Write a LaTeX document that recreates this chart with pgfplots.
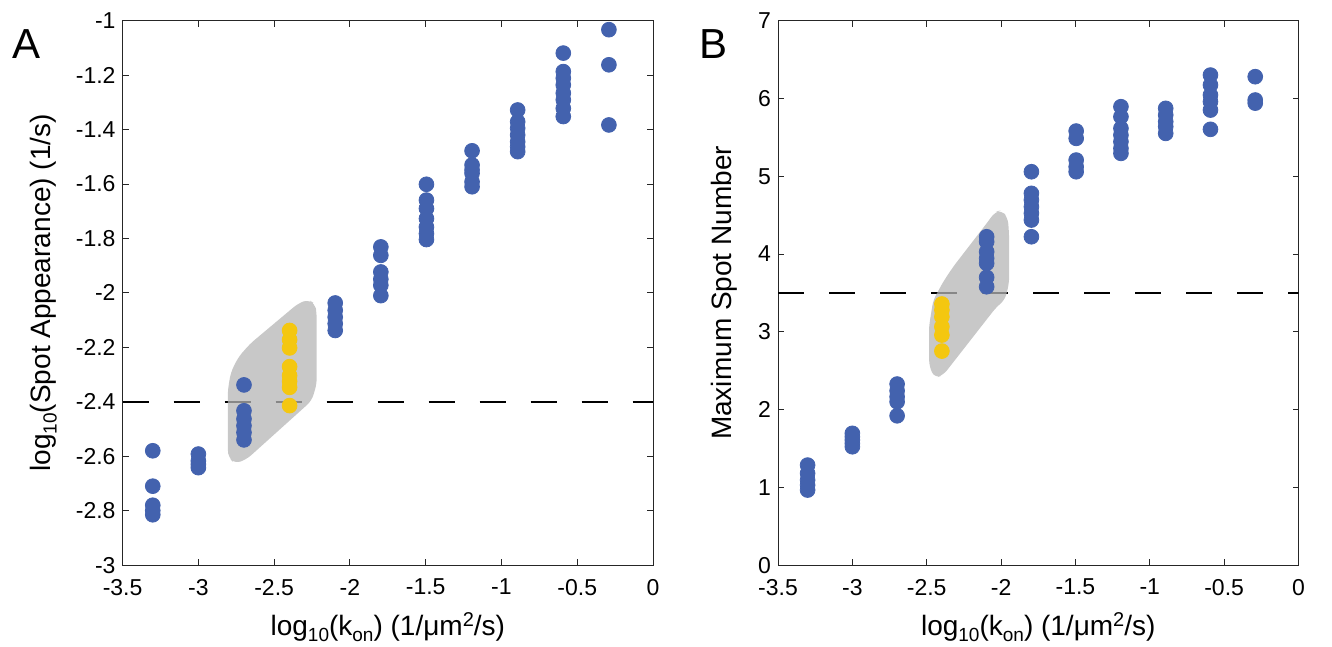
\documentclass[border=0pt]{standalone}
\usepackage{pgfplots}
\pgfplotsset{compat=1.18}
\usepackage{fontspec}
\setmainfont{Liberation Sans}

\definecolor{dotblue}{HTML}{4362AE}
\definecolor{dotyellow}{HTML}{F4C710}
\definecolor{axgray}{HTML}{262626}

\newcommand\lo[1]{\raisebox{-3.3pt}{\fontsize{9.5}{10}\selectfont #1}}
\newcommand\hi[1]{\raisebox{4.5pt}{\fontsize{10}{10}\selectfont #1}}

\pgfplotsset{
  panel/.style={
    scale only axis, height=272.2pt,
    axis line style={axgray, line width=0.5pt},
    tick style={axgray, line width=0.5pt},
    tick align=inside, major tick length=3pt,
    xmin=-3.5, xmax=0,
    xtick={-3.5,-3,-2.5,-2,-1.5,-1,-0.5,0},
    font=\fontsize{11.5}{13.8}\selectfont,
    /pgf/number format/assume math mode=true,
    ticklabel style={text=black},
    xticklabel style={yshift=-3.5pt},
    xlabel={log\lo{10}(k\lo{on}) (1/μm\hi{2}/s)},
    every axis x label/.style={at={(rel axis cs:0.5,0)}, anchor=base,
      yshift=-35pt, font=\fontsize{14}{16}\selectfont},
  },
  ylab/.style={every axis y label/.style={at={(rel axis cs:0,0.5)},
      xshift=#1, rotate=90, anchor=base, font=\fontsize{14}{16}\selectfont}},
  dots/.style={only marks, color=#1, mark=*, mark size=3.7pt,
    mark options={draw=#1, fill=#1}},
  thr/.style={black, line width=1.2pt, dash pattern=on 13pt off 12.5pt},
  blob/.style={draw=none, fill=black!29, fill opacity=0.75, rounded corners=3pt},
}

\begin{document}
\begin{tikzpicture}
\path[use as bounding box] (0,0) rectangle (666pt,-323.5pt);

% panel A
\begin{axis}[panel, at={(61.3pt,-10.35pt)}, anchor=north west, width=265.2pt,
  ymin=-3, ymax=-1,
  ytick={-3,-2.8,-2.6,-2.4,-2.2,-2,-1.8,-1.6,-1.4,-1.2,-1},
  ylabel={log\lo{10}(Spot Appearance) (1/s)}, ylab=-36.3pt]
\addplot[thr] coordinates {(-3.5,-2.4) (0,-2.4)};
\addplot[blob] coordinates {
  (-2.274,-2.025) (-2.230,-2.040) (-2.219,-2.077) (-2.219,-2.334)
  (-2.252,-2.396) (-2.681,-2.611) (-2.758,-2.627) (-2.802,-2.605)
  (-2.806,-2.568) (-2.806,-2.359) (-2.786,-2.292) (-2.736,-2.236)
  (-2.659,-2.187) (-2.340,-2.038)} -- cycle;
\addplot[dots=dotblue] coordinates {
  (-3.301,-2.58) (-3.301,-2.71) (-3.301,-2.78) (-3.301,-2.80) (-3.301,-2.815)
  (-3.0,-2.592) (-3.0,-2.617) (-3.0,-2.63) (-3.0,-2.642)
  (-2.699,-2.338) (-2.699,-2.433) (-2.699,-2.463) (-2.699,-2.488) (-2.699,-2.513) (-2.699,-2.540)
  (-2.097,-2.037) (-2.097,-2.064) (-2.097,-2.089) (-2.097,-2.113) (-2.097,-2.138)
  (-1.796,-1.831) (-1.796,-1.862) (-1.796,-1.923) (-1.796,-1.95) (-1.796,-1.972) (-1.796,-2.01)
  (-1.495,-1.601) (-1.495,-1.659) (-1.495,-1.690) (-1.495,-1.727) (-1.495,-1.758) (-1.495,-1.782) (-1.495,-1.804)
  (-1.194,-1.478) (-1.194,-1.530) (-1.194,-1.548) (-1.194,-1.561) (-1.194,-1.592) (-1.194,-1.610)
  (-0.893,-1.328) (-0.893,-1.371) (-0.893,-1.395) (-0.893,-1.420) (-0.893,-1.445) (-0.893,-1.463) (-0.893,-1.481)
  (-0.592,-1.119) (-0.592,-1.187) (-0.592,-1.211) (-0.592,-1.236) (-0.592,-1.266) (-0.592,-1.291) (-0.592,-1.322) (-0.592,-1.352)
  (-0.291,-1.033) (-0.291,-1.162) (-0.291,-1.383)
};
\addplot[dots=dotyellow] coordinates {
  (-2.398,-2.138) (-2.398,-2.172) (-2.398,-2.202) (-2.398,-2.271)
  (-2.398,-2.304) (-2.398,-2.325) (-2.398,-2.347) (-2.398,-2.414)
};
\end{axis}

% panel B
\begin{axis}[panel, at={(389pt,-10.35pt)}, anchor=north west, width=260.25pt,
  ymin=0, ymax=7, ytick={0,1,2,3,4,5,6,7},
  ylabel={Maximum Spot Number}, ylab=-23.2pt]
\addplot[thr] coordinates {(-3.5,3.5) (0,3.5)};
\addplot[blob] coordinates {
  (-1.997,4.565) (-1.954,4.462) (-1.946,4.244) (-1.946,3.627)
  (-1.974,3.408) (-2.030,3.322) (-2.389,2.443) (-2.445,2.405)
  (-2.483,2.550) (-2.485,3.065) (-2.456,3.408) (-2.389,3.643)
  (-2.322,3.836) (-2.097,4.394) (-2.041,4.540)} -- cycle;
\addplot[dots=dotblue] coordinates {
  (-3.301,1.286) (-3.301,1.179) (-3.301,1.093) (-3.301,1.029) (-3.301,0.965)
  (-3.0,1.694) (-3.0,1.65) (-3.0,1.608) (-3.0,1.565) (-3.0,1.522)
  (-2.699,2.328) (-2.699,2.242) (-2.699,2.165) (-2.699,2.100) (-2.699,1.920)
  (-2.097,4.222) (-2.097,4.158) (-2.097,4.029) (-2.097,3.944) (-2.097,3.880) (-2.097,3.700) (-2.097,3.579)
  (-1.796,5.058) (-1.796,4.780) (-1.796,4.694) (-1.796,4.608) (-1.796,4.523) (-1.796,4.437) (-1.796,4.222)
  (-1.495,5.581) (-1.495,5.487) (-1.495,5.208) (-1.495,5.122) (-1.495,5.058)
  (-1.194,5.894) (-1.194,5.765) (-1.194,5.616) (-1.194,5.530) (-1.194,5.444) (-1.194,5.359) (-1.194,5.294)
  (-0.893,5.873) (-0.893,5.787) (-0.893,5.701) (-0.893,5.637) (-0.893,5.551)
  (-0.592,6.301) (-0.592,6.173) (-0.592,6.044) (-0.592,5.958) (-0.592,5.851) (-0.592,5.603)
  (-0.291,6.28) (-0.291,5.98) (-0.291,5.94)
};
\addplot[dots=dotyellow] coordinates {
  (-2.398,3.357) (-2.398,3.279) (-2.398,3.193) (-2.398,3.065) (-2.398,2.958) (-2.398,2.752)
};
\end{axis}

\node[anchor=base west, inner sep=0pt, font=\fontsize{21}{24}\selectfont] at (5.85pt,-29.15pt) {A};
\node[anchor=base west, inner sep=0pt, font=\fontsize{21}{24}\selectfont] at (349.5pt,-29.15pt) {B};
\end{tikzpicture}
\end{document}
